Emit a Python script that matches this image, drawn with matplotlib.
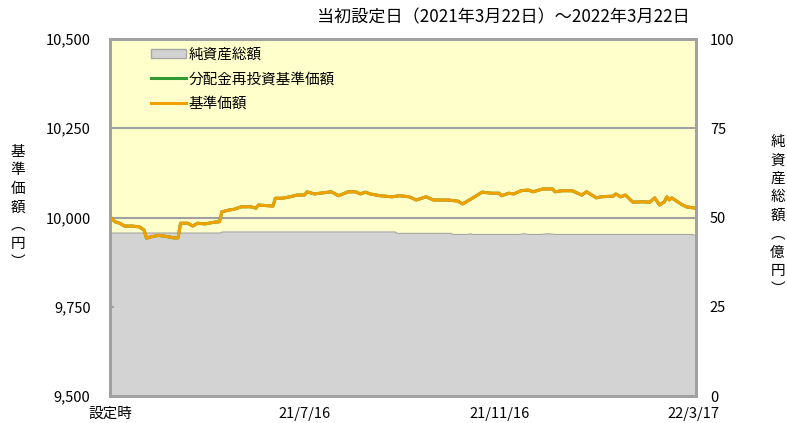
import matplotlib
matplotlib.use('Agg')
import matplotlib.pyplot as plt
from matplotlib.patches import Patch
from matplotlib.lines import Line2D

plt.rcParams['font.family'] = ['Noto Sans CJK JP', 'DejaVu Sans']

# x is a business-day index from the launch date (設定時)
tick_pos = [0, 80, 160, 240]
tick_lab = ['設定時', '21/7/16', '21/11/16', '22/3/17']

# 基準価額 (yen), points
nav_idx = [0, 2, 4, 6, 9, 12, 14, 15, 17, 20, 24, 26, 28, 29, 32, 34, 36, 39, 43, 45,
           46, 49, 51, 54, 58, 60, 61, 67, 68, 71, 74, 77, 80, 81, 84, 91, 94, 98, 101,
           103, 105, 107, 111, 116, 119, 123, 126, 130, 133, 139, 143, 145, 149, 153,
           157, 160, 161, 164, 166, 169, 172, 174, 178, 182, 183, 186, 190, 192, 194,
           196, 200, 202, 207, 208, 210, 212, 215, 219, 222, 224, 226, 228, 229, 230,
           231, 235, 237, 241]
nav = [10002, 9988, 9984, 9976, 9976, 9974, 9965, 9942, 9946, 9950, 9946, 9943, 9943,
       9984, 9984, 9976, 9984, 9982, 9987, 9988, 10016, 10021, 10023, 10030, 10030,
       10026, 10035, 10032, 10054, 10054, 10058, 10063, 10063, 10072, 10066, 10072,
       10061, 10072, 10072, 10066, 10071, 10066, 10061, 10058, 10061, 10058, 10049,
       10058, 10049, 10049, 10046, 10038, 10054, 10071, 10068, 10068, 10061, 10068,
       10066, 10075, 10077, 10072, 10080, 10080, 10072, 10075, 10075, 10069, 10063,
       10072, 10055, 10058, 10060, 10066, 10058, 10063, 10043, 10044, 10043, 10055,
       10035, 10044, 10058, 10049, 10055, 10037, 10030, 10026]

# 純資産総額 (100 million yen)
aum_idx = [0, 45, 46, 117, 118, 140, 141, 147, 148, 149, 168, 170, 172, 177, 180, 183, 239, 241]
aum = [45.8, 45.8, 46.1, 46.1, 45.7, 45.7, 45.4, 45.4, 45.6, 45.4, 45.4, 45.6, 45.4,
       45.4, 45.6, 45.4, 45.4, 45.1]

fig = plt.figure(figsize=(7.87, 4.23), dpi=100)
ax = fig.add_axes([0.1398, 0.0638, 0.7446, 0.844])
ax.set_facecolor('#ffffcc')
ax.fill_between(aum_idx, aum, 0, color='#d3d3d3', edgecolor='#a8a8a8', linewidth=0.8, zorder=2)
ax.set_ylim(0, 100)
ax.set_xlim(0, 241)
ax.set_yticks([0, 25, 50, 75, 100])
ax.grid(axis='y', color='#a0a0a0', linewidth=1.5, zorder=1)
ax.set_axisbelow(True)

axp = ax.twinx()
# price scale on the left, fund size on the right
ax.yaxis.tick_right()
axp.yaxis.tick_left()
axp.set_ylim(9500, 10500)
axp.set_yticks([9500, 9750, 10000, 10250, 10500])
axp.set_yticklabels(['{:,}'.format(v) for v in [9500, 9750, 10000, 10250, 10500]])
axp.plot(nav_idx, nav, color='#339933', linewidth=2.2)
axp.plot(nav_idx, nav, color='#f0a000', linewidth=2.2)

ax.set_xticks(tick_pos)
ax.set_xticklabels(tick_lab)

for a in (ax, axp):
    for s in a.spines.values():
        s.set_color('#a0a0a0')
        s.set_linewidth(2)
    a.tick_params(direction='in', length=3, width=1.5, color='#a0a0a0', labelsize=10.5)
ax.tick_params(axis='y', pad=10)
axp.tick_params(axis='y', pad=14)
ax.tick_params(axis='x', pad=8)

handles = [Patch(facecolor='#d3d3d3', edgecolor='#a8a8a8'),
           Line2D([], [], color='#339933', linewidth=2.2),
           Line2D([], [], color='#f0a000', linewidth=2.2)]
labels = ['純資産総額', '分配金再投資基準価額', '基準価額']
axp.legend(handles, labels, loc='upper left', bbox_to_anchor=(0.055, 1.0), frameon=False,
           fontsize=10.5, handlelength=2.4, handleheight=0.6, handletextpad=0.15,
           labelspacing=0.72, borderaxespad=0.2)

fig.text(0.64, 0.958, '当初設定日（2021年3月22日）～2022年3月22日', ha='center', va='center',
         fontsize=12.3)
fig.text(0.023, 0.51, '\n'.join('基準価額︵円︶'), ha='center', va='center',
         fontsize=10.5, linespacing=1.4)
fig.text(0.988, 0.49, '\n'.join('純資産総額︵億円︶'), ha='center', va='center',
         fontsize=10.5, linespacing=1.4)

fig.savefig('out.png', dpi=100)
